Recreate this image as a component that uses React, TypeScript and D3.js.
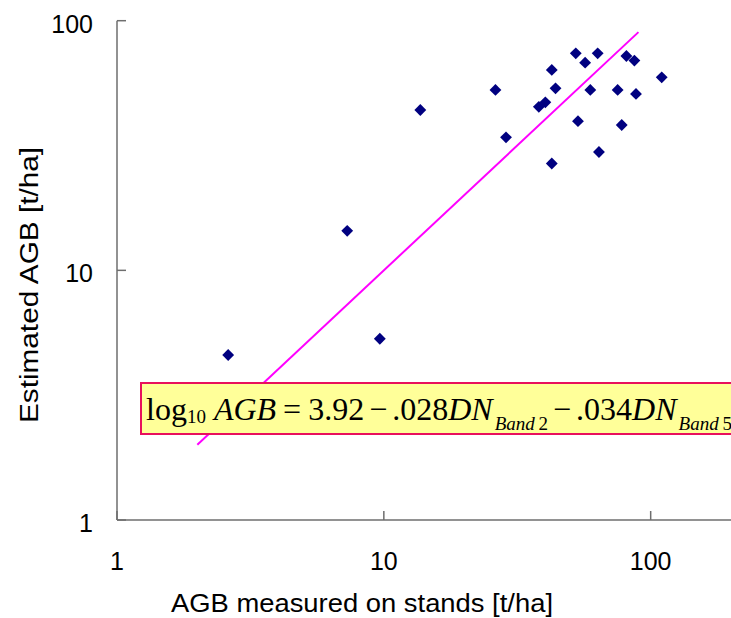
import React from 'react';
import * as d3 from 'd3';

// AGB measured on stands [t/ha] vs estimated AGB [t/ha]
const measured = [2.61, 7.29, 9.66, 13.7, 26.2, 28.7, 42.6, 44.0, 38.1, 40.3, 52.4, 56.8, 63.3, 59.4, 53.4, 42.6, 64.0, 75.2, 77.9, 81.1, 86.9, 88.1, 110];
const estimated = [4.58, 14.4, 5.32, 43.9, 52.8, 34.1, 63.5, 53.6, 45.2, 47.1, 74.0, 67.9, 74.0, 52.8, 39.6, 26.8, 29.8, 52.8, 38.2, 72.2, 69.2, 50.9, 59.3];
const fitLine = [[2, 2], [90, 90]];
const xTicks = [1, 10, 100];
const yTicks = [1, 10, 100];

const W = 731;
const H = 618;

const App = () => {
    const x = d3.scaleLog().domain([1, 200]).range([117, 731]);
    const y = d3.scaleLog().domain([1, 100]).range([520, 20.7]);

    const diamond = d3.symbol().type(d3.symbolSquare).size(70)();
    const line = d3.line<number[]>()
        .x((d) => x(d[0]))
        .y((d) => y(d[1]));

    const sans = "'Liberation Sans', Arial, sans-serif";
    const serif = "'Liberation Serif', 'Times New Roman', serif";
    const axisColor = '#6e6e6e';
    const thin = '\u2009';

    return (
        <svg width={W} height={H} style={{ position: 'fixed', left: 0, top: 0, background: '#fff' }}>
            {/* axes */}
            <line x1={x(1)} x2={W} y1={y(1)} y2={y(1)} stroke={axisColor} strokeWidth={1.5} />
            <line x1={x(1)} x2={x(1)} y1={y(1)} y2={y(100)} stroke={axisColor} strokeWidth={1.5} />
            {yTicks.map((t) => (
                <g key={'y' + t}>
                    <line x1={x(1)} x2={x(1) + 9} y1={y(t)} y2={y(t)} stroke={axisColor} strokeWidth={1.5} />
                    <text x={93} y={y(t) + 12} textAnchor="end" fontFamily={sans} fontSize={25} fill="#000">{t}</text>
                </g>
            ))}
            {xTicks.map((t) => (
                <g key={'x' + t}>
                    <line x1={x(t)} x2={x(t)} y1={y(1)} y2={y(1) - 9} stroke={axisColor} strokeWidth={1.5} />
                    <text x={x(t)} y={570} textAnchor="middle" fontFamily={sans} fontSize={25} fill="#000">{t}</text>
                </g>
            ))}
            <text x={171} y={612} fontFamily={sans} fontSize={25} textLength={382} lengthAdjust="spacingAndGlyphs">AGB measured on stands [t/ha]</text>
            <text transform="translate(38,285) rotate(-90)" textAnchor="middle" fontFamily={sans} fontSize={25} textLength={276} lengthAdjust="spacingAndGlyphs">Estimated AGB [t/ha]</text>

            {/* fitted line */}
            <path d={line(fitLine) || ''} fill="none" stroke="#ff00ff" strokeWidth={2} />

            {/* points */}
            {measured.map((m, i) => (
                <path key={i} d={diamond || ''} fill="#000080"
                    transform={`translate(${x(m)},${y(estimated[i])}) rotate(45)`} />
            ))}

            {/* equation box */}
            <rect x={141} y={383} width={620} height={51} fill="#ffff99" stroke="#e8105c" strokeWidth={2} />
            <text x={146} y={420} fontFamily={serif} fontSize={32} fill="#000">
                <tspan>log</tspan>
                <tspan fontSize={19} dy={3}>10</tspan>
                <tspan dy={-3} dx={8} fontStyle="italic">AGB</tspan>
                <tspan dx={7}>=</tspan>
                <tspan dx={7}>3.92</tspan>
                <tspan dx={5}>−</tspan>
                <tspan dx={5}>.028</tspan>
                <tspan fontStyle="italic">DN</tspan>
                <tspan fontSize={19} dy={10} dx={2} fontStyle="italic">Band</tspan>
                <tspan fontSize={19}>{thin + '2'}</tspan>
                <tspan dy={-10} dx={5}>−</tspan>
                <tspan dx={5}>.034</tspan>
                <tspan fontStyle="italic">DN</tspan>
                <tspan fontSize={19} dy={10} dx={2} fontStyle="italic">Band</tspan>
                <tspan fontSize={19}>{thin + '5'}</tspan>
            </text>
        </svg>
    );
};

export default App;
